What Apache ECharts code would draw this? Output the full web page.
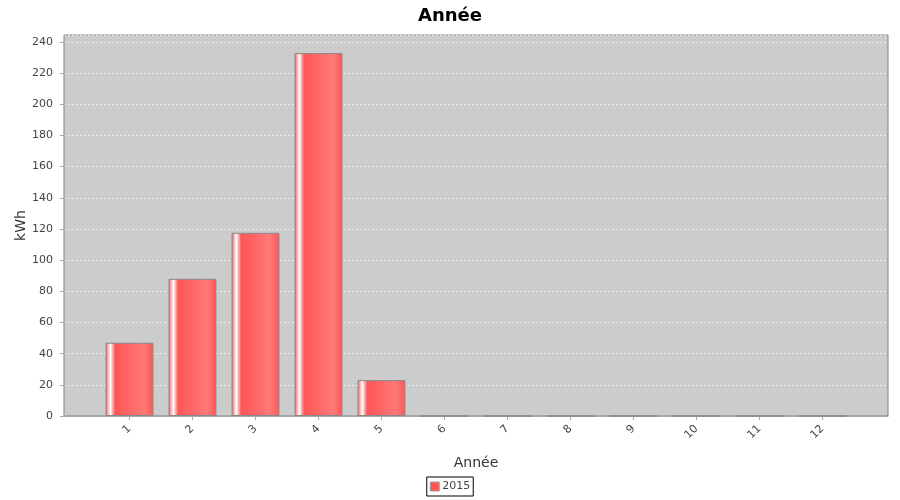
<!DOCTYPE html>
<html>
<head>
<meta charset="utf-8">
<script src="https://cdn.jsdelivr.net/npm/echarts@6/dist/echarts.min.js"></script>
<style>html,body{margin:0;padding:0;background:#fff}#c{width:900px;height:500px}</style>
</head>
<body>
<div id="c"></div>
<script>
var titleText = 'Année';
var categories = ['1','2','3','4','5','6','7','8','9','10','11','12'];
var seriesName = '2015';
var values = [47, 88, 117.5, 232.8, 23, 0, 0, 0, 0, 0, 0, 0];
var yMax = 244.4;
var yInterval = 20;

var chart = echarts.init(document.getElementById('c'), null, {renderer: 'canvas'});
var font = 'DejaVu Sans';
var barGradient = new echarts.graphic.LinearGradient(0, 0, 1, 0, [
  {offset: 0, color: '#ff5555'},
  {offset: 0.1, color: '#ffffff'},
  {offset: 0.2, color: '#ff5555'},
  {offset: 0.8, color: '#ff7979'},
  {offset: 1, color: '#ff5555'}
]);
chart.setOption({
  animation: false,
  title: {
    text: titleText, left: 'center', top: 2,
    textStyle: {fontFamily: font, fontWeight: 'bold', fontSize: 18, color: '#000'}
  },
  legend: {
    data: [{name: seriesName, itemStyle: {color: '#ff5555', borderColor: '#a0a0a0', borderWidth: 1}}],
    left: 'center', top: 477,
    icon: 'rect', itemWidth: 9, itemHeight: 9, itemGap: 4,
    padding: [4, 3, 4, 3],
    borderColor: '#000', borderWidth: 1,
    textStyle: {fontFamily: font, fontSize: 11, color: '#444', padding: [0, 0, 0, -2]}
  },
  grid: [
    {left: 64, right: 12, top: 35, bottom: 84, show: true, backgroundColor: '#cccccc', borderColor: '#808080', borderWidth: 1},
    {left: 98, right: 46, top: 35, bottom: 84}
  ],
  xAxis: [
    {
      gridIndex: 0, type: 'value', min: 0, max: 1, offset: 4,
      axisLine: {show: true, lineStyle: {color: '#a8a8a8'}},
      axisTick: {show: false}, axisLabel: {show: false}, splitLine: {show: false},
      name: 'Année', nameLocation: 'middle', nameGap: 36, nameMoveOverlap: false,
      nameTextStyle: {fontFamily: font, fontSize: 14, color: '#333'}
    },
    {
      gridIndex: 1, type: 'category', data: categories, offset: 4,
      boundaryGap: true,
      axisLine: {show: false},
      axisTick: {show: true, alignWithLabel: true, length: 4, lineStyle: {color: '#a8a8a8'}},
      axisLabel: {rotate: 45, margin: 7, fontFamily: font, fontSize: 11, color: '#444'},
      splitLine: {show: false}
    }
  ],
  yAxis: [
    {
      gridIndex: 0, type: 'value', min: 0, max: yMax, interval: yInterval, offset: 3,
      axisLine: {show: true, lineStyle: {color: '#a8a8a8'}},
      axisTick: {show: true, length: 4, lineStyle: {color: '#a8a8a8'}},
      axisLabel: {margin: 8, fontFamily: font, fontSize: 11, color: '#444',
        showMaxLabel: false},
      splitLine: {show: true, lineStyle: {color: '#eeeeee', type: [2, 2], width: 1}},
      name: 'kWh', nameLocation: 'middle', nameGap: 33, nameRotate: 90, nameMoveOverlap: false,
      nameTextStyle: {fontFamily: font, fontSize: 14, color: '#333'}
    },
    {
      gridIndex: 1, type: 'value', min: 0, max: yMax, interval: yInterval,
      show: false, splitLine: {show: false}
    }
  ],
  series: [{
    name: seriesName, type: 'bar', xAxisIndex: 1, yAxisIndex: 1,
    data: values, barCategoryGap: '24%',
    itemStyle: {color: barGradient, borderColor: '#888888', borderWidth: 1}
  }]
});
</script>
</body>
</html>
